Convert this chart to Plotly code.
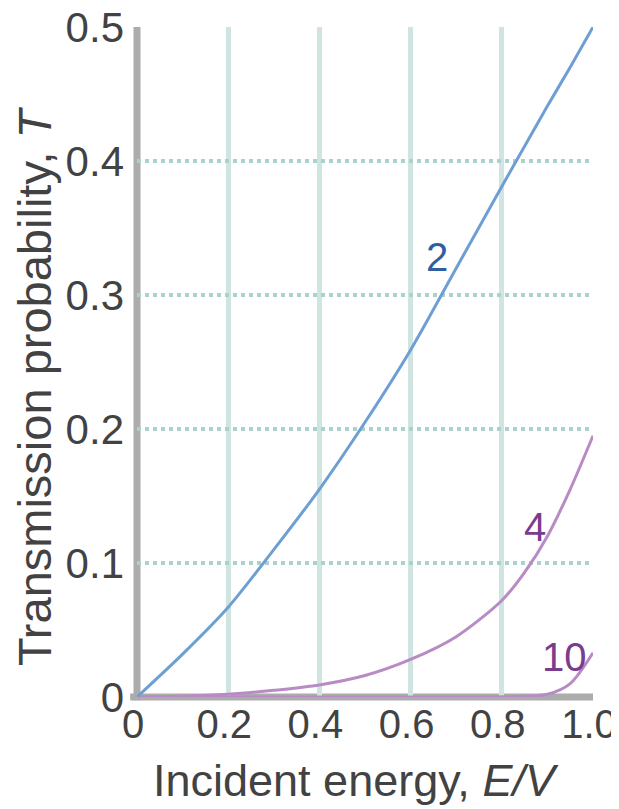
import plotly.graph_objects as go

# Incident energy E/V
x_vals = [0, 0.1, 0.2, 0.3, 0.4, 0.5, 0.6, 0.7, 0.8, 0.85, 0.9, 0.95, 1.0]
# Transmission probability for barrier widths 2, 4, 10
t_2 = [0, 0.032, 0.067, 0.110, 0.155, 0.205, 0.259, 0.320, 0.381, 0.411, 0.441, 0.470, 0.500]
t_4 = [0, 0.0005, 0.002, 0.005, 0.009, 0.016, 0.028, 0.045, 0.072, 0.093, 0.120, 0.155, 0.195]
t_10 = [0, 0, 0, 0, 0, 0, 0, 0, 0.0002, 0.0005, 0.002, 0.010, 0.033]

x_ticks = [0, 0.2, 0.4, 0.6, 0.8, 1.0]
x_tick_labels = ["0", "0.2", "0.4", "0.6", "0.8", "1.0"]
y_ticks = [0, 0.1, 0.2, 0.3, 0.4, 0.5]
y_tick_labels = ["0", "0.1", "0.2", "0.3", "0.4", "0.5"]

x_title = "Incident energy, <i>E/V</i>"
y_title = "Transmission probability, <i>T</i>"

curve_labels = ["2", "4", "10"]
label_x = [0.658, 0.873, 0.937]
label_y = [0.328, 0.127, 0.030]

blue = "#6e9fd3"
purple = "#b98bc5"
label_colors = ["#2f5f9e", "#7a3c8c", "#7a3c8c"]
axis_gray = "#acacac"
font_family = "Liberation Sans, Arial, sans-serif"
text_color = "#424242"

fig = go.Figure()
fig.add_trace(go.Scatter(x=x_vals, y=t_10, mode="lines", line=dict(color=purple, width=3, shape="spline", smoothing=0.8)))
fig.add_trace(go.Scatter(x=x_vals, y=t_4, mode="lines", line=dict(color=purple, width=3, shape="spline", smoothing=0.8)))
fig.add_trace(go.Scatter(x=x_vals, y=t_2, mode="lines", line=dict(color=blue, width=3, shape="spline", smoothing=0.8)))

for lab, lx, ly, lc in zip(curve_labels, label_x, label_y, label_colors):
    fig.add_annotation(x=lx, y=ly, text=lab, showarrow=False,
                       font=dict(size=40, color=lc, family=font_family))

# axis titles as annotations for precise placement
fig.add_annotation(x=0.480, y=0, xref="paper", yref="paper", xanchor="center", yanchor="middle",
                   yshift=-83, text=x_title, showarrow=False,
                   font=dict(size=45, color=text_color, family=font_family))
fig.add_annotation(x=0, y=0.464, xref="paper", yref="paper", xanchor="center", yanchor="middle",
                   xshift=-103, textangle=-90, text=y_title, showarrow=False,
                   font=dict(size=47, color=text_color, family=font_family))

# axis lines centred on the plot edges
fig.add_shape(type="line", xref="paper", yref="paper", x0=0, x1=0, y0=-0.005, y1=1,
              line=dict(color=axis_gray, width=7), layer="below")
fig.add_shape(type="line", xref="paper", yref="paper", x0=-0.015, x1=1.0, y0=0, y1=0,
              line=dict(color=axis_gray, width=7), layer="below")

fig.update_layout(
    width=619, height=809,
    margin=dict(l=129, r=34, t=19, b=120),
    paper_bgcolor="white", plot_bgcolor="white",
    showlegend=False,
    font=dict(family=font_family, color=text_color),
)
fig.update_xaxes(
    range=[0, 1.0], tickvals=x_ticks, ticktext=x_tick_labels,
    tickfont=dict(size=40, color=text_color), ticks="", ticklabelstandoff=0,
    ticklabelshift=-4, ticklabeloverflow="allow",
    showgrid=True, gridcolor="#d0e4e1", gridwidth=5,
    showline=False, zeroline=False, automargin=False,
)
fig.update_yaxes(
    range=[0, 0.5], tickvals=y_ticks, ticktext=y_tick_labels,
    tickfont=dict(size=42, color=text_color), ticks="", ticklabelstandoff=12,
    ticklabeloverflow="allow",
    showgrid=True, gridcolor="#abd1cc", gridwidth=4, griddash="dot",
    showline=False, zeroline=False, automargin=False,
)

fig.write_html("out.html")
